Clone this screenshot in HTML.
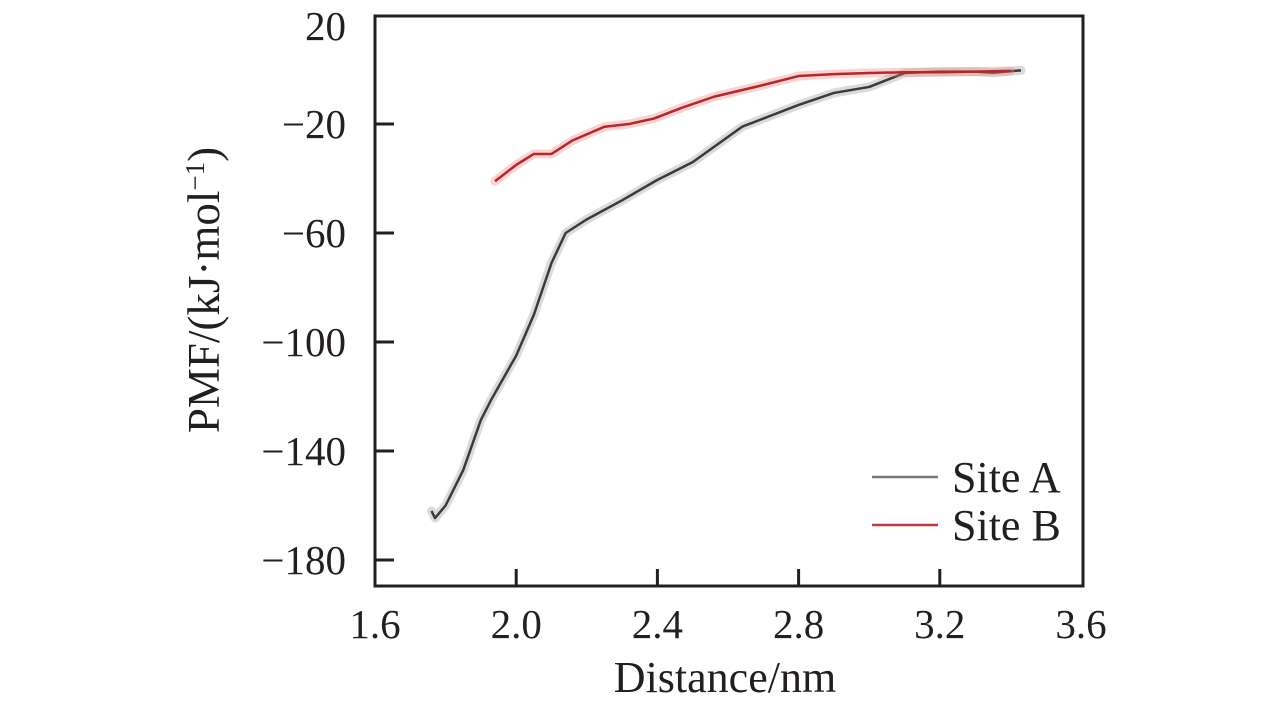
<!DOCTYPE html>
<html><head><meta charset="utf-8"><style>
html,body{margin:0;padding:0;background:#fff;}
svg{display:block;font-family:"Liberation Serif",serif;}
</style></head><body>
<svg id="chart" width="1283" height="709" viewBox="0 0 1283 709">
<g id="plot"></g>
</svg>
<script>
const xTicks=[1.6,2.0,2.4,2.8,3.2,3.6];
const yTicks=[20,-20,-60,-100,-140,-180];
const siteAx=[1.76,1.77,1.80,1.85,1.90,1.93,2.00,2.05,2.10,2.14,2.20,2.30,2.40,2.50,2.64,2.80,2.90,3.00,3.10,3.20,3.30,3.35,3.43];
const siteAy=[-162,-164.6,-160,-147,-128.6,-121,-105,-90,-71,-60,-55,-48,-40.5,-34,-21,-13,-8.6,-6.4,-1.3,-0.8,-0.8,-1.2,-0.3];
const siteBx=[1.94,2.00,2.05,2.10,2.16,2.25,2.32,2.39,2.47,2.56,2.69,2.80,2.90,3.00,3.10,3.20,3.30,3.40];
const siteBy=[-41,-35,-31,-31,-26,-21,-20,-18,-14,-10,-6,-2.4,-1.7,-1.3,-1,-1,-0.8,-0.5];
const X0=375,X1=1081,Y0=15,Y1=586;
const sx=v=>X0+(v-1.6)/2.0*(X1-X0);
const sy=v=>Y0+(20-v)*2.725;
const NS="http://www.w3.org/2000/svg";
const g=document.getElementById('plot');
function mk(t,a){const e=document.createElementNS(NS,t);for(const k in a)e.setAttribute(k,a[k]);g.appendChild(e);return e;}
const fr=mk('rect',{x:X0,y:16,width:1083-X0,height:Y1-16,fill:'none',stroke:'#231f20','stroke-width':3});


xTicks.forEach(v=>{
 const x=sx(v);
 if(v<3.5){const t=mk('line',{x1:x,x2:x,y1:Y1,y2:Y1-17,stroke:'#231f20','stroke-width':3});
 
 }
 const l=mk('text',{x:x,y:638,'text-anchor':'middle','font-size':41,fill:'#231f20'});
 l.textContent=v.toFixed(1);
 
 
});
yTicks.forEach(v=>{
 const y=sy(v);
 if(v!==20){const t=mk('line',{x1:X0,x2:X0+19,y1:y,y2:y,stroke:'#231f20','stroke-width':3});
 
 }
 const l=mk('text',{x:346,y:(v===20?26:y)+14,'text-anchor':'end','font-size':41,fill:'#231f20'});
 l.textContent=v<0?'\u2212'+(-v):String(v);
 
 
});
function series(xs,ys,color,band,name){
 const pts=xs.map((x,i)=>sx(x)+','+sy(ys[i])).join(' ');
 const b=mk('polyline',{points:pts,fill:'none',stroke:band,'stroke-width':9,'stroke-linejoin':'round','stroke-linecap':'round',opacity:0.35});
 
 
 const p=mk('polyline',{points:pts,fill:'none',stroke:color,'stroke-width':2.5,'stroke-linejoin':'round'});
 
 
}
series(siteAx,siteAy,'#3a3a3a','#999','site-a');
series(siteBx,siteBy,'#b8262c','#f08080','site-b');
[['Site A','#777',477],['Site B','#c0393f',525]].forEach(([t,c,y],i)=>{
 const l=mk('line',{x1:872,x2:938,y1:y,y2:y,stroke:c,'stroke-width':2.5});
 
 
 const tx=mk('text',{x:952,y:y+15,'font-size':44,fill:'#231f20'});
 tx.textContent=t;
 
 
});
const xt=mk('text',{x:725,y:692,'text-anchor':'middle','font-size':44,fill:'#231f20'});
xt.textContent='Distance/nm';


const yt=mk('text',{x:0,y:0,'text-anchor':'middle','font-size':45,fill:'#231f20',transform:'translate(219,290) rotate(-90)'});
yt.innerHTML='PMF/(kJ·mol<tspan dy="-15" font-size="27">−1</tspan><tspan dy="15">)</tspan>';


</script>
</body></html>
